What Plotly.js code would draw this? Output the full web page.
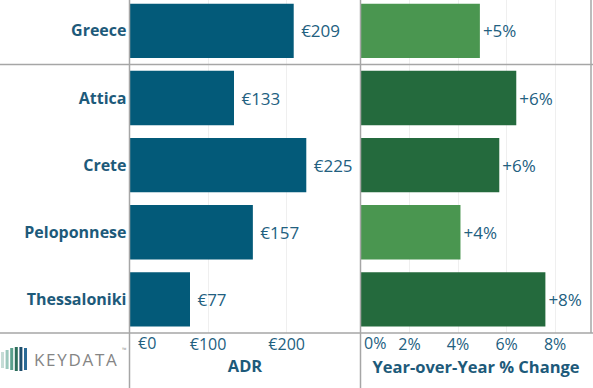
<!DOCTYPE html>
<html><head><meta charset="utf-8">
<script src="https://cdn.plot.ly/plotly-3.0.1.min.js"></script>
<style>html,body{margin:0;padding:0;background:#fff}#c{width:593px;height:388px}</style>
</head><body><div id="c"></div>
<script>
const regions = ["Greece","Attica","Crete","Peloponnese","Thessaloniki"];
const adr = [209,133,225,157,77];
const adrLabels = ["€209","€133","€225","€157","€77"];
const yoy = [4.9,6.4,5.7,4.1,7.6];
const yoyLabels = ["+5%","+6%","+6%","+4%","+8%"];
const yoyColors = ["#4a9650","#246a3d","#246a3d","#4a9650","#246a3d"];
const adrTicks = [0,100,200];
const adrTickText = ["€0","€100","€200"];
const yoyTicks = [0,2,4,6,8];
const yoyTickText = ["0%","2%","4%","6%","8%"];

const W=593, H=388, B=55, PH=H-B;
const txt = "#1d5a7a";
const valTxt = "#22607f";
const font = "Open Sans, Liberation Sans, sans-serif";
const px = v => v/W;
const py = v => (PH - v)/PH;
const pad = s => "\u00a0" + s;

const traces = [
  {type:"bar", orientation:"h", y:regions, x:adr, xaxis:"x", yaxis:"y",
   marker:{color:"#035a79"}, text:adrLabels.map(pad), textposition:"outside", cliponaxis:false,
   textfont:{family:font, size:17, color:valTxt}, hoverinfo:"skip"},
  {type:"bar", orientation:"h", y:regions, x:yoy, xaxis:"x2", yaxis:"y",
   marker:{color:yoyColors}, text:yoyLabels, textposition:"outside", cliponaxis:false,
   textfont:{family:font, size:17, color:valTxt}, hoverinfo:"skip"}
];

const lineC = "#a6a6a6";
const shapes = [
  {type:"line", xref:"paper", yref:"paper", x0:px(129.5), x1:px(129.5), y0:py(388), y1:py(0), line:{color:lineC, width:1.5}},
  {type:"line", xref:"paper", yref:"paper", x0:px(360.5), x1:px(360.5), y0:py(388), y1:py(0), line:{color:lineC, width:1.5}},
  {type:"line", xref:"paper", yref:"paper", x0:px(591), x1:px(591), y0:py(333), y1:py(0), line:{color:lineC, width:1.5}},
  {type:"line", xref:"paper", yref:"y", x0:0, x1:1, y0:0.5, y1:0.5, line:{color:lineC, width:1.5}},
  {type:"line", xref:"paper", yref:"paper", x0:0, x1:1, y0:py(333), y1:py(333), line:{color:lineC, width:1.5}}
];
// logo bars
const logoCols = ["#c5dcd6","#9cc8bd","#5aa08c","#2c6e5a","#1f4f6e","#2a6a96"];
const logoTop = [352,350,348,347,347,348];
const logoBot = [368,369,370,371,371,370];
logoCols.forEach((c,i)=>{
  const x0 = 1 + i*4.6;
  shapes.push({type:"rect", xref:"paper", yref:"paper", x0:px(x0), x1:px(x0+3), y0:py(logoBot[i]), y1:py(logoTop[i]), fillcolor:c, line:{width:0}});
});

const tickFont = {family:font, size:16, color:valTxt};
const layout = {
  width:W, height:H, margin:{l:0,r:0,t:0,b:B},
  paper_bgcolor:"#fff", plot_bgcolor:"#fff", showlegend:false, bargap:0.19,
  font:{family:font, color:txt},
  xaxis:{domain:[px(129.5),px(360.5)], range:[0,294], tickvals:adrTicks.slice(1), ticktext:adrTickText.slice(1),
    showgrid:true, gridcolor:"#efefef", zeroline:false, showline:false, ticks:"",
    tickfont:tickFont, anchor:"y",
    title:{text:"ADR", font:{family:font, size:16.5, color:txt, weight:700}, standoff:6}},
  xaxis2:{domain:[px(361),px(591)], range:[0,9.48], tickvals:yoyTicks.slice(1), ticktext:yoyTickText.slice(1),
    showgrid:true, gridcolor:"#efefef", zeroline:false, showline:false, ticks:"",
    tickfont:tickFont, anchor:"y",
    title:{text:"Year-over-Year % Change", font:{family:font, size:16.5, color:txt, weight:700}, standoff:6}},
  yaxis:{domain:[0,1], range:[4.5,-0.46], type:"category", showgrid:false, zeroline:false, showline:false,
    ticks:"", tickfont:{family:font, size:16, color:txt, weight:700}, ticklabelstandoff:2},
  shapes:shapes,
  annotations:[
    {xref:"x", yref:"paper", x:adrTicks[0], y:py(343), xanchor:"left", yanchor:"middle", xshift:6, showarrow:false,
     text:adrTickText[0], font:tickFont},
    {xref:"x2", yref:"paper", x:yoyTicks[0], y:py(343), xanchor:"left", yanchor:"middle", xshift:1, showarrow:false,
     text:yoyTickText[0], font:tickFont},
    {xref:"paper", yref:"paper", x:px(32), y:py(359), xanchor:"left", yanchor:"middle", showarrow:false,
     text:"K\u200aE\u200aY\u200aD\u200aA\u200aT\u200aA", font:{family:font, size:17, color:"#858585"}},
    {xref:"paper", yref:"paper", x:px(120), y:py(350), xanchor:"left", yanchor:"middle", showarrow:false,
     text:"™", font:{family:font, size:6, color:"#999"}}
  ]
};
Plotly.newPlot("c", traces, layout, {staticPlot:true, displayModeBar:false});
</script></body></html>
